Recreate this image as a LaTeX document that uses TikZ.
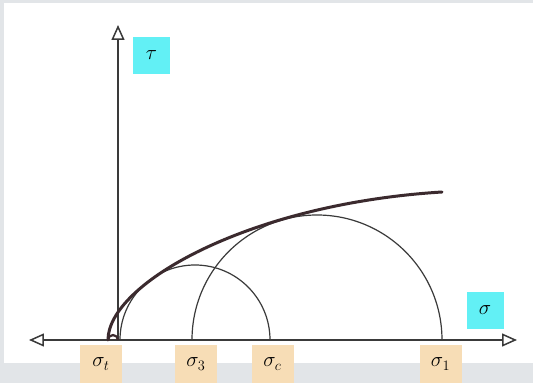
\documentclass[tikz,border=0pt]{standalone}
\usepackage{tikz}
\usetikzlibrary{arrows.meta, positioning}
\usepackage{amsmath}
\definecolor{axisgray}{HTML}{3A3A3A}
\definecolor{curvebrown}{HTML}{3B2A2E}
\definecolor{labelcyan}{HTML}{62F0F5}
\definecolor{labelpeach}{HTML}{F7DDB6}
\definecolor{paper}{HTML}{E2E5E8}

\begin{document}
\begin{tikzpicture}[
    x=1pt, y=1pt,
    every node/.style={font=\huge},
    tag/.style={minimum width=37pt, minimum height=37pt, inner sep=0pt, align=center},
    axislbl/.style={tag, fill=labelcyan},
    stresslbl/.style={tag, fill=labelpeach, minimum width=42pt, minimum height=38pt},
    axis/.style={line width=1.5pt, draw=axisgray, -{Triangle[open, length=15pt, width=13pt]}},
    daxis/.style={axis, {Triangle[open, length=15pt, width=13pt]}-{Triangle[open, length=15pt, width=13pt]}},
    mohr/.style={line width=1.2pt, draw=axisgray},
    envelope/.style={line width=3pt, draw=curvebrown, line cap=round, line join=round}
]
    % paper
    \fill[paper] (-118,-43) rectangle (415,340);
    \fill[white] (-114,-23) rectangle (415,337);
    \useasboundingbox (-118,-43) rectangle (415,340);

    % axes
    \coordinate (O) at (0,0);
    \coordinate (xleft) at (-89,0);
    \coordinate (xright) at (399,0);
    \coordinate (ytop) at (0,315);
    \draw[daxis] (xleft) -- (xright);
    \draw[axis] (O) -- (ytop);

    % stress points on the sigma axis
    \coordinate (st) at (-10,0);
    \coordinate (s3) at (74,0);
    \coordinate (sc) at (152,0);
    \coordinate (s1) at (324,0);
    \coordinate (tipend) at (324,148);

    % Mohr circles
    \draw[mohr, line width=2.2pt, draw=curvebrown] (O) arc[start angle=0, end angle=180, radius=5];
    \draw[mohr] (sc) arc[start angle=0, end angle=180, radius=75];
    \draw[mohr] (s1) arc[start angle=0, end angle=180, radius=125];

    % failure envelope
    \draw[envelope] (st) .. controls (-10,56) and (130,136) .. (tipend);

    % labels
    \node[axislbl] (tau) at (33.5,284.5) {$\tau$};
    \node[axislbl] (sigma) at (367,29.5) {$\sigma$};
    \node[stresslbl] (lt) at (-17,-24) {$\sigma_t$};
    \node[stresslbl] (l3) at (78,-24) {$\sigma_3$};
    \node[stresslbl] (lc) at (154.5,-24) {$\sigma_c$};
    \node[stresslbl] (l1) at (322.5,-24) {$\sigma_1$};
\end{tikzpicture}
\end{document}
